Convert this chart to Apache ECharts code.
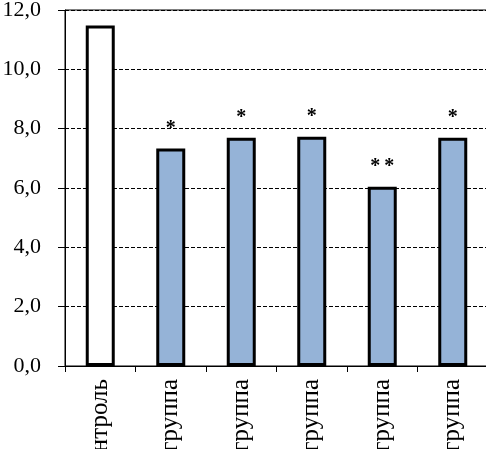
<!DOCTYPE html>
<html>
<head>
<meta charset="utf-8">
<script src="https://cdn.jsdelivr.net/npm/echarts@6/dist/echarts.min.js"></script>
<style>
  html, body { margin: 0; padding: 0; background: #fff; }
  #chart { width: 486px; height: 449px; }
</style>
</head>
<body>
<div id="chart"></div>
<script>
// данные
const categories = ['контроль', 'группа', 'группа', 'группа', 'группа', 'группа'];
const values = [11.48, 7.33, 7.69, 7.73, 6.04, 7.69];
const marks = ['', '*', '*', '*', '*\u2009*', '*'];
const yTicks = [0, 2, 4, 6, 8, 10, 12];

const serif = "'Liberation Serif', 'Times New Roman', serif";

const chart = echarts.init(document.getElementById('chart'));

const barData = values.map(function (v, i) {
  return {
    value: v,
    itemStyle: { color: i === 0 ? '#ffffff' : '#95b3d7' }
  };
});

chart.setOption({
  animation: false,
  textStyle: { fontFamily: serif },
  grid: {
    left: 65,
    top: 10,
    width: 423,
    bottom: 83,
    show: true,
    borderColor: '#000',
    borderWidth: 1,
    containLabel: false,
    outerBoundsMode: 'none'
  },
  xAxis: {
    type: 'category',
    data: categories,
    axisLine: { lineStyle: { color: '#000', width: 1 } },
    axisTick: { show: true, length: 6, lineStyle: { color: '#000' } },
    axisLabel: {
      rotate: 90,
      margin: 13,
      color: '#000',
      fontSize: 25,
      fontFamily: serif,
      interval: 0
    }
  },
  yAxis: {
    type: 'value',
    min: yTicks[0],
    max: yTicks[yTicks.length - 1],
    interval: 2,
    axisLine: { show: true, lineStyle: { color: '#000', width: 1 } },
    axisTick: { show: true, length: 7, inside: false, lineStyle: { color: '#000' } },
    axisLabel: {
      margin: 24,
      color: '#000',
      fontSize: 22,
      fontFamily: serif,
      formatter: function (v) { return v.toFixed(1).replace('.', ','); }
    },
    splitLine: {
      show: true,
      lineStyle: { color: '#000', type: [4, 2], width: 1 }
    }
  },
  series: [{
    type: 'bar',
    data: barData,
    barWidth: 29,
    itemStyle: { borderColor: '#000', borderWidth: 3 },
    label: {
      show: true,
      position: 'top',
      distance: 10,
      color: '#000',
      fontSize: 20,
      fontWeight: 'bold',
      fontFamily: serif,
      formatter: function (p) { return marks[p.dataIndex]; }
    }
  }]
});
</script>
</body>
</html>
